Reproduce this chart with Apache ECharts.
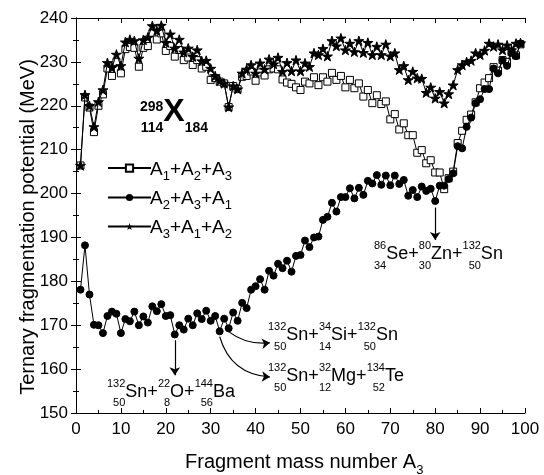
<!DOCTYPE html>
<html lang="en">
<head>
<meta charset="UTF-8">
<title>Ternary fragmentation potential</title>
<script src="https://cdn.jsdelivr.net/npm/echarts@6/dist/echarts.min.js"></script>
<style>html,body{margin:0;padding:0;background:#fff}</style>
</head>
<body>
<div id="main" style="width:544px;height:475px;"></div>
<script>
// fragment mass number A3
var massNumbers = [
  1, 2, 3, 4, 5, 6, 7, 8, 9, 10, 11, 12, 13, 14, 15, 16, 17, 18, 19, 20,
  21, 22, 23, 24, 25, 26, 27, 28, 29, 30, 31, 32, 33, 34, 35, 36, 37, 38, 39, 40,
  41, 42, 43, 44, 45, 46, 47, 48, 49, 50, 51, 52, 53, 54, 55, 56, 57, 58, 59, 60,
  61, 62, 63, 64, 65, 66, 67, 68, 69, 70, 71, 72, 73, 74, 75, 76, 77, 78, 79, 80,
  81, 82, 83, 84, 85, 86, 87, 88, 89, 90, 91, 92, 93, 94, 95, 96, 97, 98, 99
];
// A1+A2+A3 (open squares)
var pot123 = [
  206.4, 221.9, 219.6, 214.0, 220.0, 222.6, 228.5, 226.8, 230.0, 227.4,
  232.9, 233.4, 233.2, 228.9, 233.2, 233.6, 236.5, 235.1, 236.5, 232.5,
  233.6, 231.2, 232.7, 230.4, 231.0, 229.3, 230.4, 228.5, 228.9, 225.9,
  226.3, 225.5, 225.1, 219.7, 224.5, 223.8, 226.6, 226.8, 227.8, 225.7,
  227.6, 226.9, 228.3, 228.5, 228.3, 226.0, 225.3, 225.0, 224.2, 223.6,
  225.5, 225.1, 226.5, 224.7, 226.5, 225.5, 227.5, 225.9, 226.8, 224.2,
  225.9, 224.0, 225.1, 222.1, 223.6, 220.6, 222.4, 220.4, 221.0, 216.9,
  218.1, 214.6, 216.0, 213.3, 213.3, 209.3, 209.9, 206.9, 207.6, 204.8,
  204.8, 201.0, 203.5, 205.0, 211.5, 214.3, 216.8, 218.0, 220.8, 224.0,
  225.3, 226.3, 228.8, 228.0, 230.4, 230.0, 232.2, 231.5, 234.0
];
// A2+A3+A1 (filled circles)
var pot231 = [
  178.1, 188.2, 177.0, 170.1, 170.0, 168.2, 172.1, 173.1, 172.6, 168.2,
  171.4, 170.9, 173.1, 170.0, 172.0, 170.6, 174.3, 173.2, 174.8, 172.1,
  172.3, 167.9, 170.0, 169.0, 171.5, 170.0, 172.7, 171.4, 173.3, 171.0,
  172.1, 168.6, 171.5, 169.3, 172.9, 171.0, 175.1, 173.9, 178.1, 178.9,
  180.5, 178.1, 182.4, 181.3, 184.0, 183.0, 184.7, 182.2, 185.8, 186.0,
  189.3, 187.8, 190.0, 190.2, 194.0, 194.7, 197.9, 195.9, 199.2, 199.2,
  201.2, 198.9, 201.3, 199.7, 202.9, 202.3, 204.2, 202.0, 204.1, 201.9,
  204.1, 202.2, 203.1, 199.5, 200.8, 199.2, 201.6, 200.6, 201.1, 198.3,
  201.8, 201.8, 203.3, 204.6, 210.8, 210.3, 215.2, 217.3, 220.6, 221.5,
  223.8, 223.8, 228.5, 227.4, 230.4, 229.1, 232.0, 231.3, 234.2
];
// A3+A1+A2 (stars)
var pot312 = [
  206.4, 222.5, 220.0, 215.2, 220.9, 223.6, 229.8, 228.7, 231.7, 229.1,
  234.5, 235.1, 234.8, 230.8, 235.0, 235.6, 238.2, 237.1, 238.3, 234.4,
  236.3, 233.1, 235.1, 232.2, 233.1, 231.2, 232.7, 230.2, 230.3, 228.5,
  226.8, 225.7, 225.1, 219.7, 224.5, 223.8, 227.4, 228.3, 229.3, 227.4,
  229.7, 228.3, 230.6, 229.5, 231.0, 227.8, 229.8, 227.9, 230.4, 227.9,
  229.7, 228.9, 232.0, 231.6, 233.0, 231.3, 234.8, 233.6, 235.4, 232.7,
  234.2, 232.3, 234.8, 232.1, 234.4, 231.6, 233.5, 231.6, 234.0, 231.3,
  232.0, 228.2, 229.1, 225.9, 227.8, 226.3, 226.2, 223.0, 224.2, 221.7,
  223.2, 220.6, 222.7, 224.7, 228.2, 229.3, 230.0, 230.3, 232.0, 231.6,
  232.6, 234.2, 233.5, 234.0, 232.7, 233.8, 232.7, 234.2, 234.3
];
// arrows (data coordinates)
var arrowFrom = [[22, 166.6], [80, 196.8], [33.9, 168.6], [32.0, 167.4]];
var arrowTo   = [[22, 158.6], [80, 189.4], [43.2, 166.0], [43.2, 158.2]];
var arrowBend = [0, 0, -0.2, -0.35];

var FONT = '"Liberation Sans", Arial, sans-serif';
var ctx = document.createElement('canvas').getContext('2d');
function tw(s, size, bold) {
  ctx.font = (bold ? 'bold ' : '') + size + 'px ' + FONT;
  return ctx.measureText(s).width;
}
function txt(s, x, y, size, align, bold) {
  return {
    type: 'text', x: x, y: y, silent: true,
    style: {
      text: s, fontSize: size, fontFamily: FONT, fontWeight: bold ? 'bold' : 'normal',
      fill: '#000', align: align, verticalAlign: 'middle',
      textAlign: align, textVerticalAlign: 'middle'
    }
  };
}
// lays out text with pre-super/subscripts (isotopes) and post-subscripts
function formula(x, cy, toks, o) {
  var els = [];
  toks.forEach(function (t) {
    if (t.sup || t.sub) {
      x += Math.max(t.sup ? tw(t.sup, o.small, o.bold) : 0, t.sub ? tw(t.sub, o.small, o.bold) : 0);
      if (t.sup) els.push(txt(t.sup, x, cy - o.supDy, o.small, 'right', o.bold));
      if (t.sub) els.push(txt(t.sub, x, cy + o.subDy, o.small, 'right', o.bold));
    }
    els.push(txt(t.m, x, cy, o.big, 'left', o.bold));
    x += tw(t.m, o.big, o.bold);
    if (t.ps) {
      els.push(txt(t.ps, x, cy + o.psDy, o.psSize || o.small, 'left', o.bold));
      x += tw(t.ps, o.psSize || o.small, o.bold);
    }
  });
  return els;
}

var iso = { big: 18, small: 11, supDy: 8.5, subDy: 11 };
var leg = { big: 19, small: 13, psDy: 6 };
var graphics = [].concat(
  formula(150, 170, [{ m: 'A', ps: '1' }, { m: '+' }, { m: 'A', ps: '2' }, { m: '+' }, { m: 'A', ps: '3' }], leg),
  formula(150, 199, [{ m: 'A', ps: '2' }, { m: '+' }, { m: 'A', ps: '3' }, { m: '+' }, { m: 'A', ps: '1' }], leg),
  formula(150, 228, [{ m: 'A', ps: '3' }, { m: '+' }, { m: 'A', ps: '1' }, { m: '+' }, { m: 'A', ps: '2' }], leg),
  formula(140, 112, [{ m: 'X', sup: '298', sub: '114', ps: '184' }],
    { big: 32, small: 14, bold: true, supDy: 5, subDy: 16, psDy: 16 }),
  formula(107, 392, [{ m: 'Sn', sup: '132', sub: '50' }, { m: '+' }, { m: 'O', sup: '22', sub: '8' }, { m: '+' }, { m: 'Ba', sup: '144', sub: '56' }], iso),
  formula(374, 254.5, [{ m: 'Se', sup: '86', sub: '34' }, { m: '+' }, { m: 'Zn', sup: '80', sub: '30' }, { m: '+' }, { m: 'Sn', sup: '132', sub: '50' }], iso),
  formula(268, 335.5, [{ m: 'Sn', sup: '132', sub: '50' }, { m: '+' }, { m: 'Si', sup: '34', sub: '14' }, { m: '+' }, { m: 'Sn', sup: '132', sub: '50' }], iso),
  formula(268, 376.5, [{ m: 'Sn', sup: '132', sub: '50' }, { m: '+' }, { m: 'Mg', sup: '32', sub: '12' }, { m: '+' }, { m: 'Te', sup: '134', sub: '52' }], iso),
  formula(185, 462, [{ m: 'Fragment mass number A', ps: '3' }], { big: 20, small: 13, psDy: 8 })
);
var yTitle = txt('Ternary fragmentation potential (MeV)', 28, 227, 20, 'center');
yTitle.rotation = Math.PI / 2;
graphics.push(yTitle);

var STAR = 'path://M0,-10L2.245,-3.09L9.511,-3.09L3.633,1.18L5.878,8.09L0,3.82L-5.878,8.09L-3.633,1.18L-9.511,-3.09L-2.245,-3.09Z';

function pairs(vals) { return massNumbers.map(function (a, i) { return [a, vals[i]]; }); }

function axisCommon(showLabel) {
  return {
    axisLine: { show: true, lineStyle: { color: '#000', width: 1 } },
    axisTick: { show: true, inside: true, length: 5, lineStyle: { color: '#000' } },
    minorTick: { show: true, splitNumber: 2, length: 3, lineStyle: { color: '#000' } },
    axisLabel: { show: showLabel, color: '#000', fontSize: 17, fontFamily: FONT, margin: 8 },
    splitLine: { show: false }
  };
}
function xa(pos, lab) {
  return Object.assign({ type: 'value', position: pos, min: 0, max: 100, interval: 10 }, axisCommon(lab));
}
function ya(pos, lab) {
  return Object.assign({ type: 'value', position: pos, min: 150, max: 240, interval: 10 }, axisCommon(lab));
}

var chart = echarts.init(document.getElementById('main'));
var lineBase = { type: 'line', xAxisIndex: 0, yAxisIndex: 0, animation: false,
  lineStyle: { color: '#000', width: 1 } };

chart.setOption({
  backgroundColor: '#fff',
  animation: false,
  grid: { left: 76, right: 19, top: 18, bottom: 62 },
  xAxis: [xa('bottom', true), xa('top', false)],
  yAxis: [ya('left', true), ya('right', false)],
  legend: [0, 1, 2].map(function (k) {
    return {
      data: [['A1+A2+A3', 'A2+A3+A1', 'A3+A1+A2'][k]],
      left: 102, top: [158.5, 188, 217][k],
      itemWidth: 43, itemHeight: 9, itemGap: 0,
      formatter: function () { return ''; },
      textStyle: { fontSize: 8 }, selectedMode: false
    };
  }),
  series: [
    Object.assign({}, lineBase, {
      name: 'A1+A2+A3', data: pairs(pot123), symbol: 'rect', symbolSize: 7,
      itemStyle: { color: '#fff', borderColor: '#000', borderWidth: 1 }, z: 2
    }),
    Object.assign({}, lineBase, {
      name: 'A2+A3+A1', data: pairs(pot231), symbol: 'circle', symbolSize: 7,
      itemStyle: { color: '#000', borderColor: '#000' }, z: 3
    }),
    Object.assign({}, lineBase, {
      name: 'A3+A1+A2', data: pairs(pot312), symbol: STAR, symbolSize: 10, symbolKeepAspect: true,
      itemStyle: { color: '#000', borderColor: '#000' }, z: 4
    }),
    {
      type: 'lines', coordinateSystem: 'cartesian2d', xAxisIndex: 0, yAxisIndex: 0,
      symbol: ['none', 'arrow'], symbolSize: 8, silent: true, z: 5,
      lineStyle: { color: '#000', width: 1.2, opacity: 1 },
      data: arrowFrom.map(function (p, i) {
        return { coords: [p, arrowTo[i]], lineStyle: { curveness: arrowBend[i] } };
      })
    }
  ],
  graphic: { elements: graphics }
});
</script>
</body>
</html>
